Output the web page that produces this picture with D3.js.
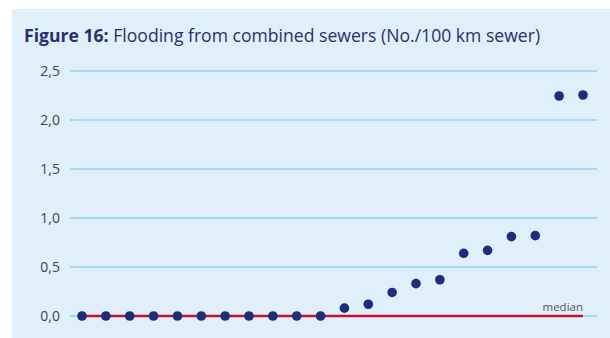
<!DOCTYPE html>
<html><head><meta charset="utf-8">
<script src="https://cdn.jsdelivr.net/npm/d3@7"></script>
<style>html,body{margin:0;padding:0;background:#fff;}</style>
</head><body>
<svg id="c" width="610" height="338"></svg>
<script>
const titleBold = "Figure 16:";
const titleRest = " Flooding from combined sewers (No./100 km sewer)";
const yTicks = [0, 0.5, 1.0, 1.5, 2.0, 2.5];
const values = [0,0,0,0,0,0,0,0,0,0,0,0.08,0.12,0.24,0.33,0.37,0.64,0.67,0.81,0.82,2.245,2.255];
const median = 0;
const medianLabel = "median";

const svg = d3.select("#c");
svg.append("rect").attr("x",12).attr("y",9).attr("width",598).attr("height",329).attr("fill","#dff0fb");

const t = svg.append("text").attr("x",24).attr("y",42)
  .attr("font-family","'Open Sans', sans-serif").attr("font-size",17.6).attr("fill","#2b2f6b");
t.append("tspan").attr("font-weight","bold").text(titleBold);
t.append("tspan").text(titleRest);

const x = d3.scalePoint().domain(d3.range(values.length)).range([82,583]);
const y = d3.scaleLinear().domain([0,2.5]).range([316,71]);

const fmt = d => d3.format(".1f")(d).replace(".", ",");
const ax = svg.append("g").attr("transform","translate(70,0)")
  .call(d3.axisLeft(y).tickValues(yTicks).tickSize(0).tickPadding(10).tickFormat(fmt));
ax.select(".domain").remove();
ax.selectAll("text").attr("font-family","'Open Sans', sans-serif").attr("font-size",14).attr("fill","#444");

svg.append("g").selectAll("line").data(yTicks).join("line")
  .attr("x1",70).attr("x2",597).attr("y1",d=>y(d)).attr("y2",d=>y(d))
  .attr("stroke","#8ed3f2").attr("stroke-width",1.5);

svg.append("line").attr("x1",x(0)).attr("x2",x(values.length-1))
  .attr("y1",y(median)).attr("y2",y(median)).attr("stroke","#c8102e").attr("stroke-width",2.5);
svg.append("text").attr("x",x(values.length-1)).attr("y",y(median)-5).attr("text-anchor","end")
  .attr("font-family","'Open Sans', sans-serif").attr("font-size",11.5).attr("fill","#555").text(medianLabel);

svg.append("g").selectAll("circle").data(values).join("circle")
  .attr("cx",(d,i)=>x(i)).attr("cy",d=>y(d)).attr("r",4.8).attr("fill","#1f2b7b");
</script>
</body></html>
